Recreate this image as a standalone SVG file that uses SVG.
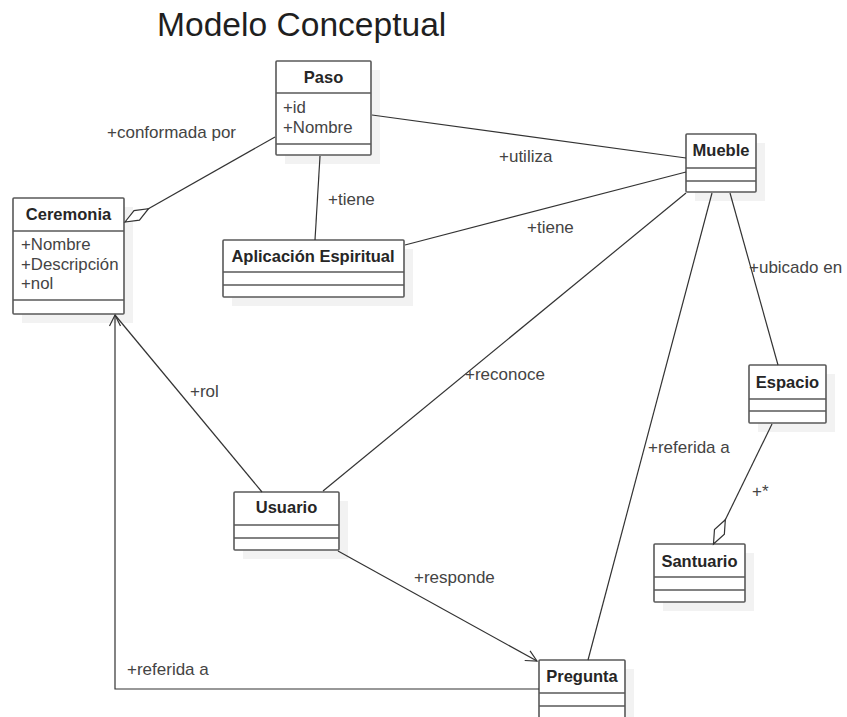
<svg xmlns="http://www.w3.org/2000/svg" width="847" height="717" viewBox="0 0 847 717">
<style>
.bg{fill:#ffffff}
.shadow{fill:#f2f2f2;stroke:none}
.box{fill:#ffffff;stroke:#595959;stroke-width:1.6}
.div{stroke:#595959;stroke-width:1.6}
.name{font-family:"Liberation Sans",Arial,sans-serif;font-size:16.5px;font-weight:bold;fill:#262626;text-anchor:middle}
.attr{font-family:"Liberation Sans",Arial,sans-serif;font-size:16.8px;fill:#444444}
.lbl{font-family:"Liberation Sans",Arial,sans-serif;font-size:17px;fill:#444444}
.title{font-family:"Liberation Sans",Arial,sans-serif;font-size:33.6px;fill:#1f1f1f}
.conn{fill:none;stroke:#333333;stroke-width:1.2}
</style>
<defs>
<marker id="diamond" markerUnits="userSpaceOnUse" markerWidth="30" markerHeight="14" viewBox="-1 -7 30 14" refX="0" refY="0" orient="auto" overflow="visible">
<path d="M0,0 L13.5,-5.5 L27,0 L13.5,5.5 Z" fill="#ffffff" stroke="#333333" stroke-width="1.2"/>
</marker>
<marker id="open" markerUnits="userSpaceOnUse" markerWidth="14" markerHeight="14" viewBox="-13 -7 14 14" refX="0" refY="0" orient="auto" overflow="visible">
<path d="M-11,-5.5 L0,0 L-11,5.5" fill="none" stroke="#333333" stroke-width="1.2"/>
</marker>
</defs>
<rect class="bg" x="0" y="0" width="847" height="717"/>
<text class="title" x="157" y="36">Modelo Conceptual</text>

<g id="paso">
<rect class="shadow" x="285" y="70" width="95" height="94"/>
<rect class="box" x="276" y="61" width="95" height="94" rx="1"/>
<line class="div" x1="276" y1="93" x2="371" y2="93"/>
<line class="div" x1="276" y1="144" x2="371" y2="144"/>
<text class="name" x="323.5" y="83">Paso</text>
<text class="attr" x="283" y="113">+id</text>
<text class="attr" x="283" y="133">+Nombre</text>
</g>

<g id="ceremonia">
<rect class="shadow" x="22" y="207" width="111" height="116"/>
<rect class="box" x="13" y="198" width="111" height="116" rx="1"/>
<line class="div" x1="13" y1="231" x2="124" y2="231"/>
<line class="div" x1="13" y1="300" x2="124" y2="300"/>
<text class="name" x="68.5" y="220">Ceremonia</text>
<text class="attr" x="21" y="250">+Nombre</text>
<text class="attr" x="21" y="270">+Descripción</text>
<text class="attr" x="21" y="289">+nol</text>
</g>

<g id="aplicacion">
<rect class="shadow" x="232" y="249" width="181" height="57"/>
<rect class="box" x="223" y="240" width="181" height="57" rx="1"/>
<line class="div" x1="223" y1="272" x2="404" y2="272"/>
<line class="div" x1="223" y1="285" x2="404" y2="285"/>
<text class="name" x="313" y="262">Aplicación Espiritual</text>
</g>

<g id="mueble">
<rect class="shadow" x="695" y="143" width="70" height="58"/>
<rect class="box" x="686" y="134" width="70" height="58" rx="1"/>
<line class="div" x1="686" y1="168" x2="756" y2="168"/>
<line class="div" x1="686" y1="181" x2="756" y2="181"/>
<text class="name" x="721" y="156">Mueble</text>
</g>

<g id="espacio">
<rect class="shadow" x="758" y="374" width="77" height="58"/>
<rect class="box" x="749" y="365" width="77" height="58" rx="1"/>
<line class="div" x1="749" y1="399" x2="826" y2="399"/>
<line class="div" x1="749" y1="411" x2="826" y2="411"/>
<text class="name" x="787.5" y="388">Espacio</text>
</g>

<g id="santuario">
<rect class="shadow" x="663" y="553" width="91" height="58"/>
<rect class="box" x="654" y="544" width="91" height="58" rx="1"/>
<line class="div" x1="654" y1="577" x2="745" y2="577"/>
<line class="div" x1="654" y1="590" x2="745" y2="590"/>
<text class="name" x="699.5" y="567">Santuario</text>
</g>

<g id="usuario">
<rect class="shadow" x="243" y="501" width="105" height="58"/>
<rect class="box" x="234" y="492" width="105" height="58" rx="1"/>
<line class="div" x1="234" y1="525" x2="339" y2="525"/>
<line class="div" x1="234" y1="538" x2="339" y2="538"/>
<text class="name" x="286.5" y="513">Usuario</text>
</g>

<g id="pregunta">
<rect class="shadow" x="548" y="669" width="86" height="58"/>
<rect class="box" x="539" y="660" width="86" height="58" rx="1"/>
<line class="div" x1="539" y1="693" x2="625" y2="693"/>
<line class="div" x1="539" y1="706" x2="625" y2="706"/>
<text class="name" x="582" y="682">Pregunta</text>
</g>

<g id="connectors">
<path class="conn" d="M125,222 L275,137" marker-start="url(#diamond)"/>
<path class="conn" d="M320,156 L315,240"/>
<path class="conn" d="M372,115 L686,158"/>
<path class="conn" d="M405,245 L686,172"/>
<path class="conn" d="M686,193 L323,491"/>
<path class="conn" d="M712,193 L588,660"/>
<path class="conn" d="M730,193 L778,365"/>
<path class="conn" d="M713.5,544 L772,424" marker-start="url(#diamond)"/>
<path class="conn" d="M262,492 L115,315"/>
<path class="conn" d="M338,551 L537,661" marker-end="url(#open)"/>
<path class="conn" d="M539,689 L115,689 L115,315" marker-end="url(#open)"/>
<text class="lbl" x="107" y="138">+conformada por</text>
<text class="lbl" x="328" y="205">+tiene</text>
<text class="lbl" x="499" y="162">+utiliza</text>
<text class="lbl" x="527" y="233">+tiene</text>
<text class="lbl" x="465" y="380">+reconoce</text>
<text class="lbl" x="648" y="453">+referida a</text>
<text class="lbl" x="749" y="273">+ubicado en</text>
<text class="lbl" x="752" y="497">+*</text>
<text class="lbl" x="190" y="397">+rol</text>
<text class="lbl" x="414" y="583">+responde</text>
<text class="lbl" x="127" y="675">+referida a</text>
</g>
</svg>
